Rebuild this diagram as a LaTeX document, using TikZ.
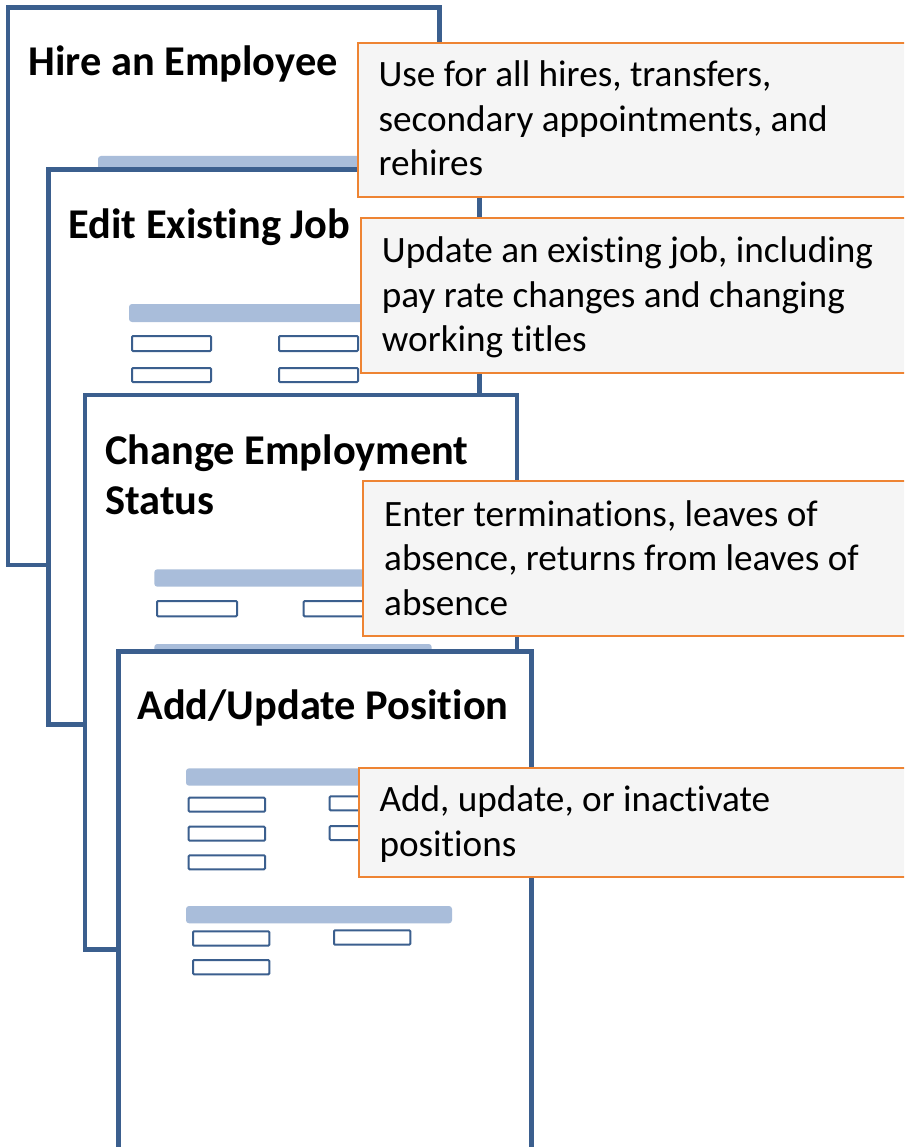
\documentclass[tikz,border=0pt]{standalone}
\usepackage{fontspec}
\setmainfont{Carlito}[Ligatures=NoCommon]
\definecolor{framecol}{HTML}{3B5F8E}
\definecolor{barcol}{HTML}{A9BDDA}
\definecolor{noteline}{HTML}{EE8433}
\definecolor{notefill}{HTML}{F5F5F5}
\begin{document}
\begin{tikzpicture}[x=1pt,y=-1pt,
  panelbox/.style={draw=framecol, line width=4.5pt, fill=white},
  barbox/.style={fill=barcol, rounded corners=3pt},
  fieldbox/.style={draw=framecol, line width=2pt, fill=white, rounded corners=1pt},
  notebox/.style={draw=noteline, line width=2pt, fill=notefill},
  titletext/.style={anchor=base west, inner sep=0pt, font=\bfseries\fontsize{42.4}{50}\selectfont},
  desctext/.style={anchor=base west, inner sep=0pt, font=\fontsize{37.2}{44.5}\selectfont}]
\useasboundingbox (0,0) rectangle (904,1147);
\clip (0,0) rectangle (904,1147);

% Hire an Employee window
\draw[panelbox] (8,7.5) rectangle (439.5,565);
\fill[barbox] (98,156) rectangle (420,174);
\node[titletext] (hire) at (28.3,76) {Hire an Employee};

% Edit Existing Job window
\draw[panelbox] (48.5,169.5) rectangle (479.5,724.5);
\node[titletext] (edit) at (68.3,239) {Edit Existing Job};
\fill[barbox] (129,304) rectangle (420,322);
\draw[fieldbox] (132,336) rectangle (211,351);
\draw[fieldbox] (132,368) rectangle (211,382);
\draw[fieldbox] (279,336) rectangle (358,351);
\draw[fieldbox] (279,368) rectangle (358,382);

% Change Employment Status window
\draw[panelbox] (85,395) rectangle (517,949.5);
\node[titletext] (change) at (105,464.3) {\parbox[t]{400pt}{\raggedright Change Employment\\Status}};
\fill[barbox] (154.3,569.3) rectangle (440,586.7);
\draw[fieldbox] (157,601) rectangle (237,616.3);
\draw[fieldbox] (303.7,601) rectangle (383,616.3);
\fill[barbox] (154.3,644) rectangle (431.7,662);

% Add/Update Position window
\draw[panelbox] (118.3,651.5) rectangle (531.5,1170);
\node[titletext] (position) at (137.3,719.3) {Add/Update Position};
\fill[barbox] (186,768.3) rectangle (440,785.7);
\draw[fieldbox] (188.7,797.7) rectangle (265,811.7);
\draw[fieldbox] (188.7,826.7) rectangle (265,840.7);
\draw[fieldbox] (188.7,855.3) rectangle (265,869.3);
\draw[fieldbox] (329.7,796.3) rectangle (400,810.3);
\draw[fieldbox] (329.7,826) rectangle (400,840);
\fill[barbox] (186,906) rectangle (452,923.3);
\draw[fieldbox] (193,931.3) rectangle (269.3,945.7);
\draw[fieldbox] (193,960) rectangle (269.3,974.3);
\draw[fieldbox] (334,930.3) rectangle (410.3,944.7);

% Callout notes
\draw[notebox] (358,42.7) rectangle (920,197.3);
\node[desctext] (hirenote) at (378.3,87) {\parbox[t]{520pt}{\raggedright Use for all hires, transfers,\\secondary appointments, and\\rehires}};

\draw[notebox] (360.7,218.5) rectangle (920,373.2);
\node[desctext] (editnote) at (381.7,263) {\parbox[t]{520pt}{\raggedright Update an existing job, including\\pay rate changes and changing\\working titles}};

\draw[notebox] (362.7,480.8) rectangle (920,635.5);
\node[desctext] (changenote) at (384,526) {\parbox[t]{520pt}{\raggedright Enter terminations, leaves of\\absence, returns from leaves of\\absence}};

\draw[notebox] (359.3,767.7) rectangle (920,877.3);
\node[desctext] (positionnote) at (379.3,811.7) {\parbox[t]{520pt}{\raggedright Add, update, or inactivate\\positions}};
\end{tikzpicture}
\end{document}
